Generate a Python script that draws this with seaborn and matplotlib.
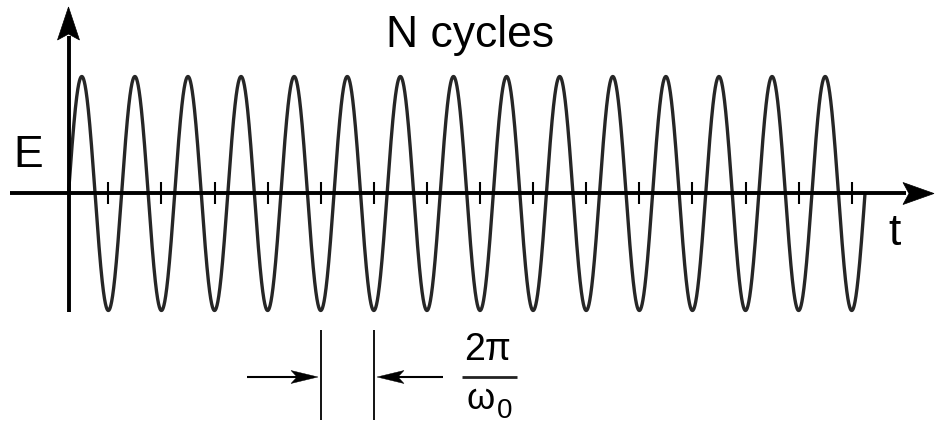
import numpy as np
import matplotlib
matplotlib.use("Agg")
import matplotlib.pyplot as plt
import seaborn as sns
from matplotlib.patches import Polygon

# ---- data (schematic parameters) ----
n_cycles = 15            # number of cycles drawn
amplitude = 1.0          # field amplitude E0
period = 1.0             # 2*pi/omega0 (time unit)
marked_cycle = [4, 5]    # troughs marking one period below the axis
labels_axes = ["E", "t"]
title_text = "N cycles"
frac_num = "2\u03c0"
frac_den = "\u03c9"
frac_sub = "0"

# ---- figure / scales ----
W, H = 935, 424
DPI = 100
x0_px, per_px = 68.5, 53.1   # origin and period in pixels
y0_px, amp_px = 193.5, 117.0

sns.set_theme(style="white")
plt.rcParams["font.family"] = ["Liberation Sans", "DejaVu Sans"]

fig = plt.figure(figsize=(W / DPI, H / DPI), dpi=DPI)
ax = fig.add_axes([0, 0, 1, 1])
ax.set_xlim(-x0_px / per_px * period, (W - x0_px) / per_px * period)
ax.set_ylim((y0_px - H) / amp_px * amplitude, y0_px / amp_px * amplitude)
ax.axis("off")

sx = period / per_px      # data per pixel (x)
sy = amplitude / amp_px   # data per pixel (y)

def X(px):
    return (px - x0_px) * sx

def Y(py):
    return (y0_px - py) * sy

# ---- the wave ----
t = np.linspace(0, n_cycles * period, 6000)
E = amplitude * np.sin(2 * np.pi * t / period)
sns.lineplot(x=t, y=E, ax=ax, color="#262626", lw=2.4, sort=False,
             estimator=None, legend=False, zorder=3)

# ---- axes lines ----
ax.plot([X(10), X(906)], [0, 0], color="black", lw=2.8, solid_capstyle="butt", zorder=4)
ax.plot([0, 0], [Y(312), Y(36)], color="black", lw=2.8, solid_capstyle="butt", zorder=4)

def stealth(tip, direction, length, half_w, notch):
    tx, ty = tip
    if direction == "right":
        pts = [(tx, ty), (tx - length, ty + half_w), (tx - length + notch, ty), (tx - length, ty - half_w)]
    elif direction == "left":
        pts = [(tx, ty), (tx + length, ty + half_w), (tx + length - notch, ty), (tx + length, ty - half_w)]
    else:
        pts = [(tx, ty), (tx + half_w, ty + length), (tx, ty + length - notch), (tx - half_w, ty + length)]
    return [(X(a), Y(b)) for a, b in pts]

for poly in [stealth((934, 193.5), "right", 31, 11, 6),
             stealth((68.5, 7), "up", 33, 11, 6)]:
    ax.add_patch(Polygon(poly, closed=True, facecolor="black", edgecolor="black", lw=0.5, zorder=5))

# ---- tick marks at troughs ----
troughs = (np.arange(n_cycles) + 0.75) * period
ax.vlines(troughs, -11 * sy, 11 * sy, color="black", lw=1.5, zorder=4)

# ---- period marker below ----
m0, m1 = troughs[marked_cycle[0]], troughs[marked_cycle[1]]
ax.vlines([m0, m1], Y(420), Y(330), color="black", lw=1.3, zorder=4)
ya = Y(377)
ax.plot([X(247), X(300)], [ya, ya], color="black", lw=1.5, solid_capstyle="butt")
ax.plot([X(395), X(443)], [ya, ya], color="black", lw=1.5, solid_capstyle="butt")
for poly in [stealth((318, 377), "right", 27, 6.5, 6),
             stealth((377, 377), "left", 27, 6.5, 6)]:
    ax.add_patch(Polygon(poly, closed=True, facecolor="black", edgecolor="black", lw=0.3, zorder=5))

# fraction 2pi / omega0
ax.plot([X(462), X(517)], [ya, ya], color="#222222", lw=2.0, solid_capstyle="butt")
ax.text(X(488), Y(360), frac_num, fontsize=27, ha="center", va="baseline", color="black")
ax.text(X(467), Y(409), frac_den, fontsize=26, ha="left", va="baseline", color="black")
ax.text(X(497), Y(418), frac_sub, fontsize=20, ha="left", va="baseline", color="black")

# ---- labels ----
ax.text(X(470), Y(47), title_text, fontsize=32, ha="center", va="baseline", color="black")
ax.text(X(28), Y(167), labels_axes[0], fontsize=32, ha="center", va="baseline", color="black")
ax.text(X(895), Y(245), labels_axes[1], fontsize=32, ha="center", va="baseline", color="black")

fig.savefig("out.png", dpi=DPI, facecolor="white")
